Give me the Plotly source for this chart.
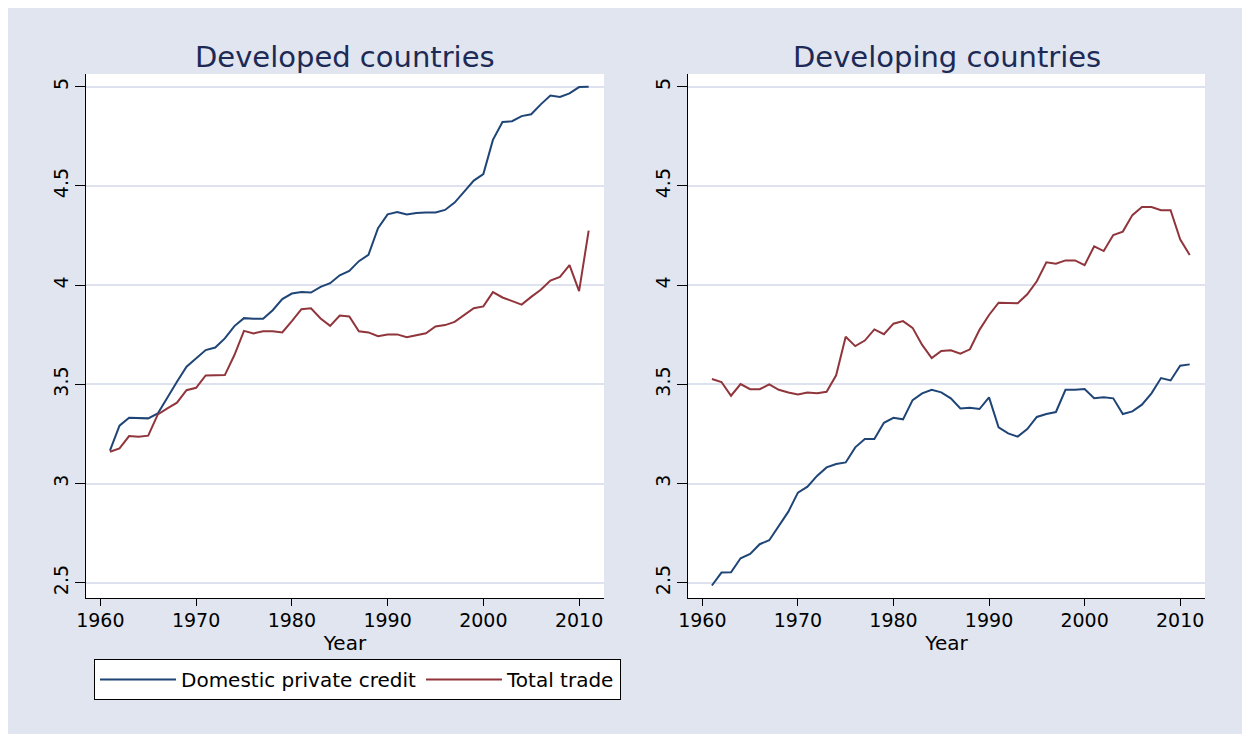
import plotly.graph_objects as go

years = list(range(1961, 2012))

# Developed countries
dev_credit = [3.166, 3.292, 3.332, 3.332, 3.329, 3.354, 3.435, 3.513, 3.589, 3.631,
              3.673, 3.686, 3.732, 3.794, 3.834, 3.831, 3.831, 3.874, 3.930, 3.958,
              3.966, 3.963, 3.992, 4.010, 4.050, 4.072, 4.121, 4.153, 4.287, 4.357,
              4.369, 4.356, 4.364, 4.366, 4.366, 4.379, 4.416, 4.471, 4.527, 4.560,
              4.732, 4.822, 4.826, 4.852, 4.861, 4.911, 4.955, 4.948, 4.966, 4.998,
              5.000]
dev_trade = [3.161, 3.178, 3.240, 3.237, 3.242, 3.349, 3.379, 3.408, 3.471, 3.483,
             3.545, 3.547, 3.547, 3.648, 3.770, 3.757, 3.768, 3.768, 3.762, 3.819,
             3.879, 3.884, 3.832, 3.795, 3.847, 3.842, 3.768, 3.762, 3.743, 3.752,
             3.752, 3.738, 3.748, 3.758, 3.792, 3.799, 3.815, 3.849, 3.884, 3.893,
             3.965, 3.938, 3.919, 3.902, 3.941, 3.977, 4.023, 4.042, 4.101, 3.970,
             4.275]

# Developing countries
dvg_credit = [2.487, 2.552, 2.554, 2.624, 2.646, 2.695, 2.715, 2.784, 2.859, 2.955,
              2.985, 3.039, 3.082, 3.099, 3.107, 3.183, 3.225, 3.225, 3.307, 3.332,
              3.324, 3.421, 3.455, 3.473, 3.460, 3.430, 3.379, 3.383, 3.376, 3.435,
              3.284, 3.253, 3.237, 3.275, 3.336, 3.351, 3.361, 3.473, 3.473, 3.477,
              3.430, 3.435, 3.430, 3.351, 3.364, 3.398, 3.455, 3.532, 3.520, 3.594,
              3.601]
dvg_trade = [3.527, 3.512, 3.443, 3.502, 3.476, 3.476, 3.500, 3.473, 3.459, 3.449,
             3.459, 3.456, 3.463, 3.546, 3.740, 3.693, 3.721, 3.777, 3.753, 3.806,
             3.819, 3.785, 3.699, 3.633, 3.669, 3.672, 3.655, 3.677, 3.775, 3.850,
             3.912, 3.909, 3.909, 3.954, 4.020, 4.115, 4.108, 4.125, 4.125, 4.101,
             4.196, 4.172, 4.253, 4.270, 4.353, 4.394, 4.394, 4.378, 4.378, 4.231,
             4.152]

panel_titles = ["Developed countries", "Developing countries"]
series_names = ["Domestic private credit", "Total trade"]
x_ticks = [1960, 1970, 1980, 1990, 2000, 2010]
y_ticks = [2.5, 3, 3.5, 4, 4.5, 5]
y_tick_labels = ["2.5", "3", "3.5", "4", "4.5", "5"]
x_title = "Year"

BLUE = "#1f4577"
RED = "#90353b"
BG = "#e0e5ef"
GRID = "#dde2ee"
TITLE_C = "#1c2a55"
FONT = "DejaVu Sans"

fig = go.Figure()
fig.add_trace(go.Scatter(x=years, y=dev_credit, mode="lines", name=series_names[0],
                         line=dict(color=BLUE, width=2), xaxis="x", yaxis="y"))
fig.add_trace(go.Scatter(x=years, y=dev_trade, mode="lines", name=series_names[1],
                         line=dict(color=RED, width=2), xaxis="x", yaxis="y"))
fig.add_trace(go.Scatter(x=years, y=dvg_credit, mode="lines", name=series_names[0],
                         line=dict(color=BLUE, width=2), xaxis="x2", yaxis="y2",
                         showlegend=False))
fig.add_trace(go.Scatter(x=years, y=dvg_trade, mode="lines", name=series_names[1],
                         line=dict(color=RED, width=2), xaxis="x2", yaxis="y2",
                         showlegend=False))

xcommon = dict(range=[1958.5, 2012.6], tickvals=x_ticks, ticks="outside", ticklen=7,
               tickwidth=1, tickcolor="black", showline=True, linecolor="black",
               linewidth=1.3, showgrid=False, zeroline=False,
               tickfont=dict(family=FONT, size=19, color="black"),
               ticklabelstandoff=-2,
               title=dict(text=x_title, font=dict(family=FONT, size=20, color="black"),
                          standoff=0))
ycommon = dict(range=[2.424, 5.064], tickvals=y_ticks, ticktext=y_tick_labels,
               tickangle=-90, ticks="outside", ticklen=10, tickwidth=1,
               tickcolor="black", showline=True, linecolor="black", linewidth=1.3,
               showgrid=True, gridcolor=GRID, gridwidth=2, zeroline=False,
               tickfont=dict(family=FONT, size=19, color="black"),
               ticklabelstandoff=-1)

fig.update_layout(
    width=1242, height=726, autosize=False,
    margin=dict(l=78, r=45, t=66, b=136),
    paper_bgcolor=BG, plot_bgcolor="white",
    xaxis=dict(domain=[0, 0.4629], anchor="y", **xcommon),
    yaxis=dict(domain=[0, 1], anchor="x", **ycommon),
    xaxis2=dict(domain=[0.538, 1], anchor="y2", **xcommon),
    yaxis2=dict(domain=[0, 1], anchor="x2", **ycommon),
    showlegend=True,
    legend=dict(orientation="h", x=0.00715, xanchor="left", y=-0.1164, yanchor="top",
                bgcolor="white", bordercolor="black", borderwidth=1,
                font=dict(family=FONT, size=20, color="black"),
                itemwidth=76, tracegroupgap=0),
    annotations=[
        dict(text=panel_titles[0], x=0.2315, y=1.0324, xref="paper", yref="paper",
             xanchor="center", yanchor="middle", showarrow=False,
             font=dict(family=FONT, size=29, color=TITLE_C)),
        dict(text=panel_titles[1], x=0.769, y=1.0324, xref="paper", yref="paper",
             xanchor="center", yanchor="middle", showarrow=False,
             font=dict(family=FONT, size=29, color=TITLE_C)),
    ],
)

fig.write_html("out.html")
